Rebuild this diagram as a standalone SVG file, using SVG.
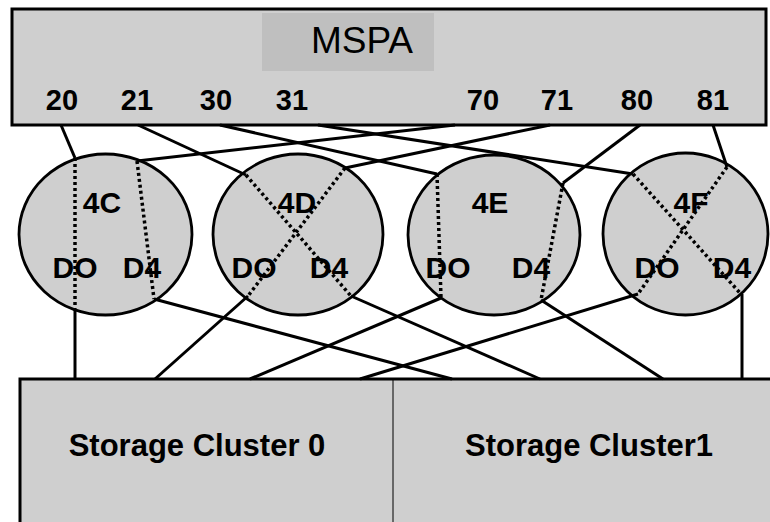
<svg xmlns="http://www.w3.org/2000/svg" width="770" height="522" viewBox="0 0 770 522">
<style>
.box{fill:#cfcfcf;stroke:#000;stroke-width:3}
.node{fill:#cfcfcf;stroke:#000;stroke-width:2.8}
.port{font-family:"Liberation Sans",Arial,sans-serif;font-weight:bold;font-size:29px;fill:#000;text-anchor:middle}
.lbl{font-family:"Liberation Sans",Arial,sans-serif;font-weight:bold;font-size:30px;fill:#000;text-anchor:middle}
.sc{font-family:"Liberation Sans",Arial,sans-serif;font-weight:bold;font-size:31px;fill:#000;text-anchor:middle}
.solid{stroke:#000;stroke-width:3;fill:none}
.dot{stroke:#000;stroke-width:3.5;stroke-dasharray:3 3;fill:none}
</style>
<g id="mspa">
<rect class="box" x="12" y="9" width="754" height="116"/>
<rect x="262" y="13" width="172" height="58" fill="#bfbfbf"/>
<text x="362" y="53" font-family="'Liberation Sans',Arial,sans-serif" font-size="37" text-anchor="middle" fill="#000">MSPA</text>
<text class="port" x="62" y="110">20</text>
<text class="port" x="137" y="110">21</text>
<text class="port" x="216" y="110">30</text>
<text class="port" x="292" y="110">31</text>
<text class="port" x="483" y="110">70</text>
<text class="port" x="557" y="110">71</text>
<text class="port" x="637" y="110">80</text>
<text class="port" x="713" y="110">81</text>
</g>
<g id="storage">
<rect class="box" x="20" y="379" width="760" height="160"/>
<line x1="393" y1="379" x2="393" y2="522" stroke="#000" stroke-width="1"/>
<text class="sc" x="197" y="456">Storage Cluster 0</text>
<text class="sc" x="589" y="456">Storage Cluster1</text>
</g>
<g id="n4C">
<ellipse class="node" cx="105.5" cy="234.5" rx="86.5" ry="80.5"/>
<text class="lbl" x="102" y="213">4C</text>
<text class="lbl" x="75" y="278">DO</text>
<text class="lbl" x="142" y="278">D4</text>
</g>
<g id="n4D">
<ellipse class="node" cx="298" cy="234.5" rx="85" ry="80.5"/>
<text class="lbl" x="297" y="213">4D</text>
<text class="lbl" x="254" y="278">DO</text>
<text class="lbl" x="329" y="278">D4</text>
</g>
<g id="n4E">
<ellipse class="node" cx="494" cy="235" rx="86" ry="80"/>
<text class="lbl" x="490" y="213">4E</text>
<text class="lbl" x="448" y="278">DO</text>
<text class="lbl" x="531" y="278">D4</text>
</g>
<g id="n4F">
<ellipse class="node" cx="685.5" cy="234" rx="82.5" ry="81"/>
<text class="lbl" x="691" y="213">4F</text>
<text class="lbl" x="657" y="278">DO</text>
<text class="lbl" x="732" y="278">D4</text>
</g>
<g id="connectors">
<line class="solid" x1="61" y1="125" x2="75" y2="158"/>
<line class="solid" x1="455" y1="125" x2="137" y2="161"/>
<line class="solid" x1="138" y1="125" x2="246" y2="175"/>
<line class="solid" x1="550" y1="125" x2="345" y2="168"/>
<line class="solid" x1="220" y1="125" x2="437" y2="174"/>
<line class="solid" x1="640" y1="125" x2="563" y2="183"/>
<line class="solid" x1="318" y1="125" x2="633" y2="174"/>
<line class="solid" x1="713" y1="125" x2="727" y2="167"/>
<line class="dot" x1="75" y1="158" x2="75" y2="308"/>
<line class="dot" x1="137" y1="161" x2="154" y2="299"/>
<line class="dot" x1="246" y1="175" x2="351" y2="296"/>
<line class="dot" x1="345" y1="168" x2="248" y2="296"/>
<line class="dot" x1="437" y1="174" x2="441" y2="298"/>
<line class="dot" x1="563" y1="183" x2="541" y2="300"/>
<line class="dot" x1="633" y1="174" x2="740" y2="293"/>
<line class="dot" x1="727" y1="167" x2="638" y2="294"/>
<line class="solid" x1="75" y1="308" x2="75" y2="379"/>
<line class="solid" x1="154" y1="299" x2="452" y2="379"/>
<line class="solid" x1="248" y1="296" x2="155" y2="379"/>
<line class="solid" x1="351" y1="296" x2="540" y2="379"/>
<line class="solid" x1="441" y1="298" x2="250" y2="379"/>
<line class="solid" x1="541" y1="300" x2="663" y2="379"/>
<line class="solid" x1="638" y1="294" x2="360" y2="379"/>
<line class="solid" x1="742" y1="294" x2="742" y2="379"/>
</g>
</svg>
